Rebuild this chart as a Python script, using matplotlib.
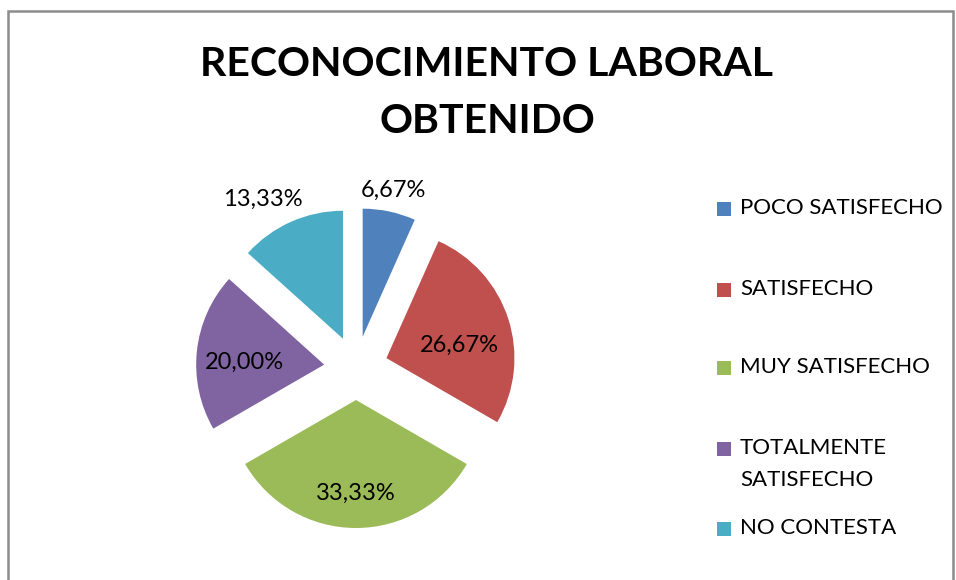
import matplotlib
matplotlib.use("Agg")
import matplotlib.pyplot as plt
from matplotlib.patches import Rectangle
import numpy as np

plt.rcParams['font.family'] = ['Lato', 'DejaVu Sans']

# datos
categorias = ["POCO SATISFECHO", "SATISFECHO", "MUY SATISFECHO",
              "TOTALMENTE\nSATISFECHO", "NO CONTESTA"]
porcentajes = [6.67, 26.67, 33.33, 20.00, 13.33]
colores = ["#4F81BD", "#C0504D", "#9BBB59", "#8064A2", "#4BACC6"]
titulo = "RECONOCIMIENTO LABORAL\nOBTENIDO"

# ajustes de etiquetas (radio relativo y giro en grados, horario)
lab_r = [1.17, 0.58, 0.73, 0.62, 1.26]
lab_giro = [0, 8, 0, -4, -6]
leg_y = [209, 290, 368, 449, 529]   # px desde arriba

W, H = 956, 580
fig = plt.figure(figsize=(W / 100, H / 100), dpi=100)

# marco gris
fig.patches.append(Rectangle((7.5 / W, -0.1), (953 - 7.5) / W, 1.1 - 11 / H,
                             transform=fig.transFigure, fill=False,
                             edgecolor="#8c8c8c", lw=1.8))

R = 128  # radio en px
cx, cy = 356, 368
lim = 1.6
s = lim * 2 * R
ax = fig.add_axes([(cx - s / 2) / W, (H - cy - s / 2) / H, s / W, s / H])

expl = 0.25
wedges, _ = ax.pie(porcentajes, colors=colores, explode=[expl] * 5,
                   startangle=90, counterclock=False, radius=1,
                   wedgeprops=dict(linewidth=0))
ax.set_xlim(-lim, lim)
ax.set_ylim(-lim, lim)
ax.set_aspect("equal")
ax.axis("off")

for w, v, r, g in zip(wedges, porcentajes, lab_r, lab_giro):
    mid = np.deg2rad((w.theta1 + w.theta2) / 2)
    ox, oy = expl * np.cos(mid), expl * np.sin(mid)
    a = mid - np.deg2rad(g)
    txt = ("%.2f%%" % v).replace(".", ",")
    ax.text(ox + r * np.cos(a), oy + r * np.sin(a), txt, ha="center",
            va="center", fontsize=17, color="black")

fig.text(487 / W, 1 - 93 / H, titulo, ha="center", va="center",
         fontsize=29.5, fontweight="bold", linespacing=1.65)

# leyenda
for w, cat, y in zip(wedges, categorias, leg_y):
    fig.patches.append(Rectangle((717 / W, 1 - (y + 7) / H), 14 / W, 14 / H,
                                 transform=fig.transFigure,
                                 facecolor=w.get_facecolor(), lw=0))
    fig.text(740 / W, 1 - (y - 11) / H, cat, ha="left", va="top",
             fontsize=16, linespacing=1.75)

fig.savefig("out.png", dpi=100)
